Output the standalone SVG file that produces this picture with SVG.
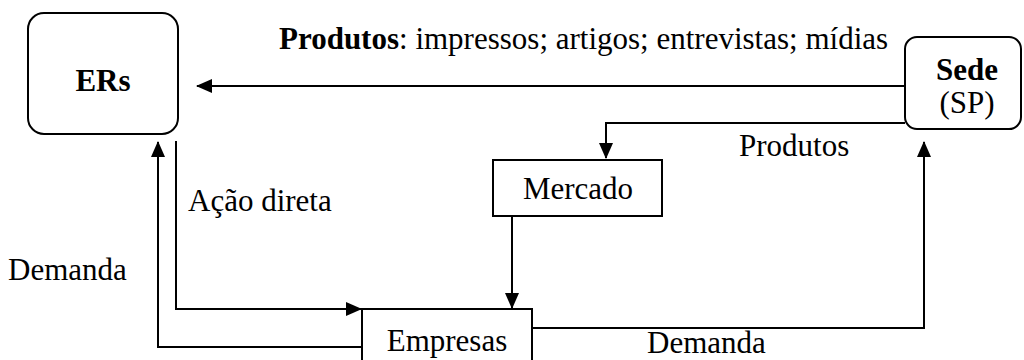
<svg xmlns="http://www.w3.org/2000/svg" width="1024" height="360" viewBox="0 0 1024 360">
<style>
text{font-family:"Liberation Serif","Times New Roman",serif;font-size:31px;fill:#000}
.b{font-weight:bold}
.box{fill:#fff;stroke:#000;stroke-width:2}
.c{fill:none;stroke:#000;stroke-width:2}
</style>
<defs>
<marker id="ah" markerUnits="userSpaceOnUse" markerWidth="16" markerHeight="14" refX="15" refY="7" orient="auto">
<path d="M0,0 L16,7 L0,14 Z" fill="#000"/>
</marker>
</defs>
<rect width="1024" height="360" fill="#fff"/>
<g id="connectors">
<path class="c" d="M905,86 H197" marker-end="url(#ah)"/>
<path class="c" d="M905,123 H606 V158" marker-end="url(#ah)"/>
<path class="c" d="M512,216 V308" marker-end="url(#ah)"/>
<path class="c" d="M176,141 V309 H361" marker-end="url(#ah)"/>
<path class="c" d="M362,347 H158 V142" marker-end="url(#ah)"/>
<path class="c" d="M532,328 H924 V142" marker-end="url(#ah)"/>
</g>
<g id="ERs">
<rect class="box" x="28" y="13" width="150" height="121" rx="16"/>
<text class="b" x="103" y="91" text-anchor="middle">ERs</text>
</g>
<g id="Sede">
<rect class="box" x="905" y="37" width="116" height="92" rx="12"/>
<text class="b" x="967" y="80" text-anchor="middle">Sede</text>
<text x="967" y="113" text-anchor="middle">(SP)</text>
</g>
<g id="Mercado">
<rect class="box" x="493" y="160" width="169" height="56"/>
<text x="578" y="199" text-anchor="middle">Mercado</text>
</g>
<g id="Empresas">
<rect class="box" x="362" y="309" width="170" height="60"/>
<text x="447" y="351" text-anchor="middle">Empresas</text>
</g>
<g id="labels">
<text x="279" y="49"><tspan class="b">Produtos</tspan>: impressos; artigos; entrevistas; mídias</text>
<text x="739" y="156">Produtos</text>
<text x="188" y="211">Ação direta</text>
<text x="8" y="280">Demanda</text>
<text x="647" y="353">Demanda</text>
</g>
</svg>
